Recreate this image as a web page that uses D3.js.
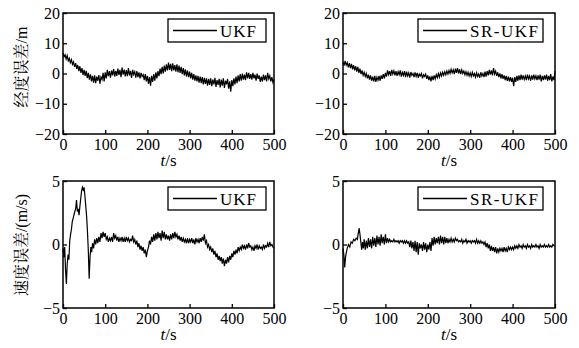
<!DOCTYPE html>
<html><head><meta charset="utf-8">
<script src="https://cdn.jsdelivr.net/npm/d3@7"></script>
<style>
body{margin:0;background:#fff;}
</style></head><body>
<svg id="c" width="579" height="348"></svg>
<script>
// ---------- data ----------
const tLon = d3.range(0, 500.1, 2.5);
const lonUKF = [
 6.8,5.5,6.2,4.8,5.9,4.2,5.0,3.6,4.6,3.0,
 3.8,2.2,3.4,1.5,2.8,0.8,2.4,0.2,1.8,-0.5,
 1.2,-0.8,0.9,-1.5,0.2,-2.0,-0.3,-2.6,-0.8,-3.0,
 -0.6,-3.2,-1.0,-2.4,-0.5,-3.4,-1.2,-2.0,0.2,-2.6,
 0.4,-1.6,1.2,-0.9,0.8,-1.4,1.0,-0.6,1.5,-1.0,
 0.9,-0.8,1.6,-0.5,1.2,-1.2,2.0,-0.4,1.3,-1.0,
 1.1,-0.9,1.8,-0.6,0.9,-1.5,1.2,-0.3,0.6,-1.4,
 0.8,-1.2,0.4,-1.6,0.2,-1.0,-0.4,-2.2,-0.2,-2.6,
 -0.8,-3.4,-1.2,-4.0,-0.8,-2.8,-0.2,-2.4,0.4,-1.6,
 0.8,-0.9,1.6,-0.2,2.2,0.0,2.6,0.6,3.0,1.0,
 3.6,1.2,3.2,0.8,3.4,1.0,2.8,0.6,3.0,0.4,
 2.6,0.2,2.2,-0.2,1.8,-0.6,1.4,-1.0,1.0,-1.2,
 0.6,-1.6,0.2,-2.0,-0.2,-2.4,-0.6,-2.6,-0.8,-3.0,
 -1.0,-3.2,-1.2,-3.6,-1.4,-3.4,-1.6,-4.0,-1.8,-3.8,
 -1.6,-4.2,-2.0,-3.6,-1.4,-4.4,-2.2,-3.8,-1.8,-4.6,
 -2.0,-4.0,-1.6,-4.8,-2.4,-3.6,-1.8,-5.0,-2.6,-6.0,
 -2.2,-4.2,-1.6,-3.6,-1.0,-3.2,-0.6,-2.6,-0.2,-2.4,
 0.0,-2.0,-0.4,-2.2,0.4,-1.6,0.2,-1.8,-0.2,-2.0,
 0.2,-1.6,-0.4,-2.4,0.0,-1.8,-0.6,-2.8,-1.0,-2.6,
 -0.4,-2.2,-0.6,-2.6,0.2,-1.8,-0.8,-2.6,-1.2,-3.0,-2.0];
const lonSR = [
 3.8,2.6,4.2,2.8,3.6,2.0,3.4,1.8,3.2,1.4,
 2.8,1.0,2.4,0.6,2.2,0.2,1.6,-0.2,1.0,-0.6,
 0.4,-1.0,0.0,-1.6,-0.4,-2.0,-0.6,-2.4,-1.0,-2.6,
 -0.8,-2.8,-1.2,-2.2,-0.8,-2.4,-0.6,-1.8,-0.2,-1.6,
 0.2,-1.0,1.0,-0.4,0.8,-0.8,1.2,-0.2,0.9,-0.6,
 0.8,-0.8,0.6,-0.4,1.0,-1.0,0.4,-0.6,0.8,-1.2,
 0.6,-0.8,0.2,-1.4,0.5,-0.6,0.0,-1.2,0.4,-1.0,
 0.2,-1.4,-0.2,-0.8,0.0,-1.6,-0.4,-1.0,-0.2,-1.8,
 -0.6,-2.2,-1.0,-2.6,-0.8,-2.2,-0.6,-1.8,-0.4,-1.4,
 0.0,-1.2,0.2,-0.8,0.4,-0.6,0.6,-0.4,0.8,-0.2,
 1.0,0.0,1.4,0.2,1.2,-0.2,1.6,0.2,1.8,0.0,
 1.4,-0.2,1.2,0.0,0.8,-0.4,0.6,-0.6,0.4,-0.8,
 0.2,-1.0,0.4,-0.8,0.0,-1.2,0.2,-1.0,-0.2,-1.4,
 0.4,-0.8,0.0,-1.2,0.6,-1.0,0.8,-0.6,1.2,-0.4,
 1.0,-0.6,1.8,-0.2,0.8,-0.8,0.4,-1.2,0.0,-1.6,
 -0.2,-1.8,-0.6,-2.2,-0.8,-2.4,-1.0,-2.6,-1.2,-2.8,
 -1.4,-4.2,-1.2,-2.8,-0.8,-2.4,-0.6,-2.2,-0.4,-2.0,
 -0.6,-2.0,-0.8,-2.2,-0.4,-1.8,-0.8,-2.4,-0.6,-2.0,
 -0.4,-1.8,-0.8,-2.2,-0.6,-2.0,-0.4,-2.6,-0.8,-2.2,
 -0.6,-2.0,-0.4,-2.4,-0.8,-2.2,-0.2,-2.6,-1.0,-2.2,0.8];

const tVelUKF = [0,2,4,6,8,10,12,14,16,18,20,22,25,28,30,32,34,36,38,40,42,44,46,48,50,52,54,56,58,60,62,64,66,68]
  .concat(d3.range(70, 500.1, 2.5));
const velUKF = [
 -0.3,-1.0,-0.2,-2.0,-3.1,-1.5,-0.8,-1.2,0.3,0.8,1.2,1.8,2.2,2.6,2.8,3.5,2.6,2.8,2.3,3.0,3.6,4.2,4.5,4.3,4.5,3.8,3.0,2.2,1.0,-0.5,-2.7,-1.0,-0.2,-0.6,
 0.1,-0.3,0.4,0.0,0.5,0.1,0.6,0.2,0.9,0.5,
 1.0,0.6,0.9,0.4,0.6,0.2,0.5,0.3,0.6,0.2,
 0.9,0.5,0.7,0.3,0.6,0.2,0.5,0.3,0.6,0.2,
 0.5,0.2,0.6,0.3,0.5,0.2,0.4,0.3,0.7,0.2,
 0.4,0.0,0.3,-0.2,0.1,-0.4,-0.1,-0.5,-0.2,-0.7,
 -0.4,-1.0,-0.5,-0.2,0.3,0.0,0.6,0.2,0.8,0.3,
 0.9,0.4,1.0,0.5,0.9,0.3,1.1,0.5,1.0,0.4,
 0.8,0.4,0.7,0.3,0.8,0.4,0.9,0.5,1.0,0.6,
 0.8,0.4,0.7,0.3,0.6,0.2,0.5,0.2,0.4,0.1,
 0.5,0.1,0.4,0.2,0.5,0.1,0.4,0.0,0.5,0.2,
 0.4,0.1,0.5,0.2,0.6,0.3,0.8,0.1,0.3,-0.2,
 0.0,-0.4,-0.2,-0.6,-0.3,-0.8,-0.5,-1.0,-0.7,-1.2,
 -0.9,-1.3,-1.0,-1.5,-1.1,-1.7,-1.2,-1.5,-1.0,-1.4,
 -0.9,-1.2,-0.7,-1.0,-0.5,-0.8,-0.4,-0.7,-0.2,-0.5,
 -0.2,-0.4,0.0,-0.3,-0.1,-0.4,0.0,-0.3,0.1,-0.2,
 -0.1,-0.4,-0.2,-0.5,-0.1,-0.3,0.0,-0.4,-0.1,-0.3,
 -0.2,-0.4,0.0,-0.3,-0.1,-0.2,0.1,-0.2,0.2,-0.1,
 0.0,-0.2,-0.3];

const tVelSR = [0,2,4,6,8,10,13,16,19,22,25,28,31,34,36,38,40,42,44,46,48]
  .concat(d3.range(50, 500.1, 2.5));
const velSR = [
 -0.3,-0.8,-1.8,-1.0,-0.6,-0.3,0.0,-0.2,0.2,0.1,0.4,0.3,0.5,0.4,0.9,1.3,0.8,0.2,-0.4,0.2,-0.3,
 0.4,-0.4,0.3,-0.3,0.5,-0.2,0.4,-0.3,0.6,-0.1,
 0.5,-0.2,0.7,0.0,0.6,-0.1,0.8,0.1,0.6,0.0,
 0.8,0.1,0.5,0.2,0.4,0.2,0.3,0.2,0.4,0.2,
 0.3,0.2,0.3,0.1,0.3,0.2,0.3,0.1,0.3,0.1,
 0.3,0.1,0.2,-0.2,0.3,-0.3,0.2,-0.5,0.3,-0.6,
 0.2,-0.8,0.1,-0.3,0.0,-0.5,0.2,-0.4,0.1,-0.6,
 0.0,-0.4,0.2,-0.5,0.5,-0.1,0.6,0.0,0.5,0.1,
 0.6,0.0,0.7,0.1,0.6,0.0,0.6,0.1,0.5,0.1,
 0.4,0.2,0.5,0.2,0.4,0.2,0.5,0.3,0.4,0.2,
 0.3,0.2,0.4,0.1,0.3,0.2,0.4,0.1,0.3,0.2,
 0.3,0.1,0.3,0.2,0.3,0.1,0.4,0.1,0.3,0.1,
 0.3,0.1,0.2,0.0,0.2,-0.2,0.1,-0.3,0.0,-0.5,
 -0.1,-0.5,-0.2,-0.6,-0.2,-0.7,-0.3,-0.6,-0.3,-0.5,
 -0.3,-0.6,-0.2,-0.5,-0.3,-0.6,-0.2,-0.4,-0.2,-0.4,
 -0.2,-0.4,-0.1,-0.3,-0.1,-0.3,0.0,-0.2,-0.1,-0.3,
 0.0,-0.2,-0.1,-0.3,0.0,-0.2,-0.1,-0.3,0.0,-0.2,
 -0.1,-0.2,0.0,-0.2,-0.1,-0.3,0.0,-0.2,-0.1,-0.2,
 0.0,-0.2,-0.1,-0.2,0.0,-0.2,-0.1,-0.2,0.0,-0.1,-0.1];

const xTicks = [0,100,200,300,400,500];
const lonTicks = [-20,-10,0,10,20];
const velTicks = [-5,0,5];
const yTitles = ["经度误差/m", "速度误差/(m/s)"];
const legendNames = ["UKF", "SR-UKF"];

// ---------- drawing ----------
const SERIF = '"Liberation Serif","Times New Roman",serif';
const CJK = '"Liberation Serif","Noto Serif CJK SC","Noto Sans CJK SC",serif';
const svg = d3.select("#c");
const cols = [[63,274],[343,555]];
const rows = [[13,134],[181,308]];

const panels = [
  {c:0,r:0,t:tLon,v:lonUKF,dom:[-20,20],ticks:lonTicks,name:legendNames[0]},
  {c:1,r:0,t:tLon,v:lonSR,dom:[-20,20],ticks:lonTicks,name:legendNames[1]},
  {c:0,r:1,t:tVelUKF,v:velUKF,dom:[-5,5],ticks:velTicks,name:legendNames[0]},
  {c:1,r:1,t:tVelSR,v:velSR,dom:[-5,5],ticks:velTicks,name:legendNames[1]},
];

panels.forEach(p=>{
  const [x0,x1] = cols[p.c], [y0,y1] = rows[p.r];
  const x = d3.scaleLinear().domain([0,500]).range([x0,x1]);
  const y = d3.scaleLinear().domain(p.dom).range([y1,y0]);
  const g = svg.append("g");

  const line = d3.line().x((d,i)=>x(p.t[i])).y(d=>y(d));
  g.append("path").datum(p.v).attr("d",line).attr("fill","none")
    .attr("stroke","#000").attr("stroke-width",1.2);

  const xa = g.append("g").attr("transform",`translate(0,${y1})`)
    .call(d3.axisBottom(x).tickValues(xTicks).tickSizeInner(-4).tickSizeOuter(0).tickFormat(d3.format("d")));
  xa.attr("font-family",null).attr("font-size",null);
  xa.select(".domain").remove();
  xa.selectAll("line").attr("stroke","#000").attr("stroke-width",1.3);
  xa.selectAll("text").attr("y",16).attr("dy","0").style("font-family",SERIF).style("font-size","16px").attr("fill","#000");

  const ya = g.append("g").attr("transform",`translate(${x0},0)`)
    .call(d3.axisLeft(y).tickValues(p.ticks).tickSizeInner(-4).tickSizeOuter(0).tickFormat(d3.format("d")));
  ya.attr("font-family",null).attr("font-size",null);
  ya.select(".domain").remove();
  ya.selectAll("line").attr("stroke","#000").attr("stroke-width",1.3);
  ya.selectAll("text").attr("x",-3).style("font-family",SERIF).style("font-size","16px").attr("fill","#000");

  g.append("rect").attr("x",x0).attr("y",y0).attr("width",x1-x0).attr("height",y1-y0)
    .attr("fill","none").attr("stroke","#000").attr("stroke-width",1.5);

  const xt = g.append("text").attr("x",(x0+x1)/2).attr("y",y1+32).attr("text-anchor","middle")
    .style("font-family",SERIF).style("font-size","17px");
  xt.append("tspan").style("font-style","italic").text("t");
  xt.append("tspan").text("/s");

  const lx0 = p.c===0 ? 168 : 418, lx1 = p.c===0 ? 266 : 543;
  const ly0 = y0+6, ly1 = y0+29;
  g.append("rect").attr("x",lx0).attr("y",ly0).attr("width",lx1-lx0).attr("height",ly1-ly0)
    .attr("fill","#fff").attr("stroke","#000").attr("stroke-width",1.3);
  const lineEnd = p.c===0 ? 217 : 467;
  g.append("line").attr("x1",lx0+5).attr("x2",lineEnd).attr("y1",(ly0+ly1)/2).attr("y2",(ly0+ly1)/2)
    .attr("stroke","#000").attr("stroke-width",1.5);
  g.append("text").attr("x",lineEnd+3).attr("y",ly1-5).style("font-family",SERIF).style("font-size","17px")
    .style("letter-spacing", p.c===0 ? "1px" : "1.5px").text(p.name);

  if(p.c===0){
    const cy = p.r===0 ? 67 : 245;
    g.append("text").attr("transform",`translate(21,${cy}) rotate(-90)`)
      .attr("text-anchor","middle").attr("dy","0.35em").style("font-family",CJK).style("font-size","16px").text(yTitles[p.r]);
  }
});
</script>
</body></html>
